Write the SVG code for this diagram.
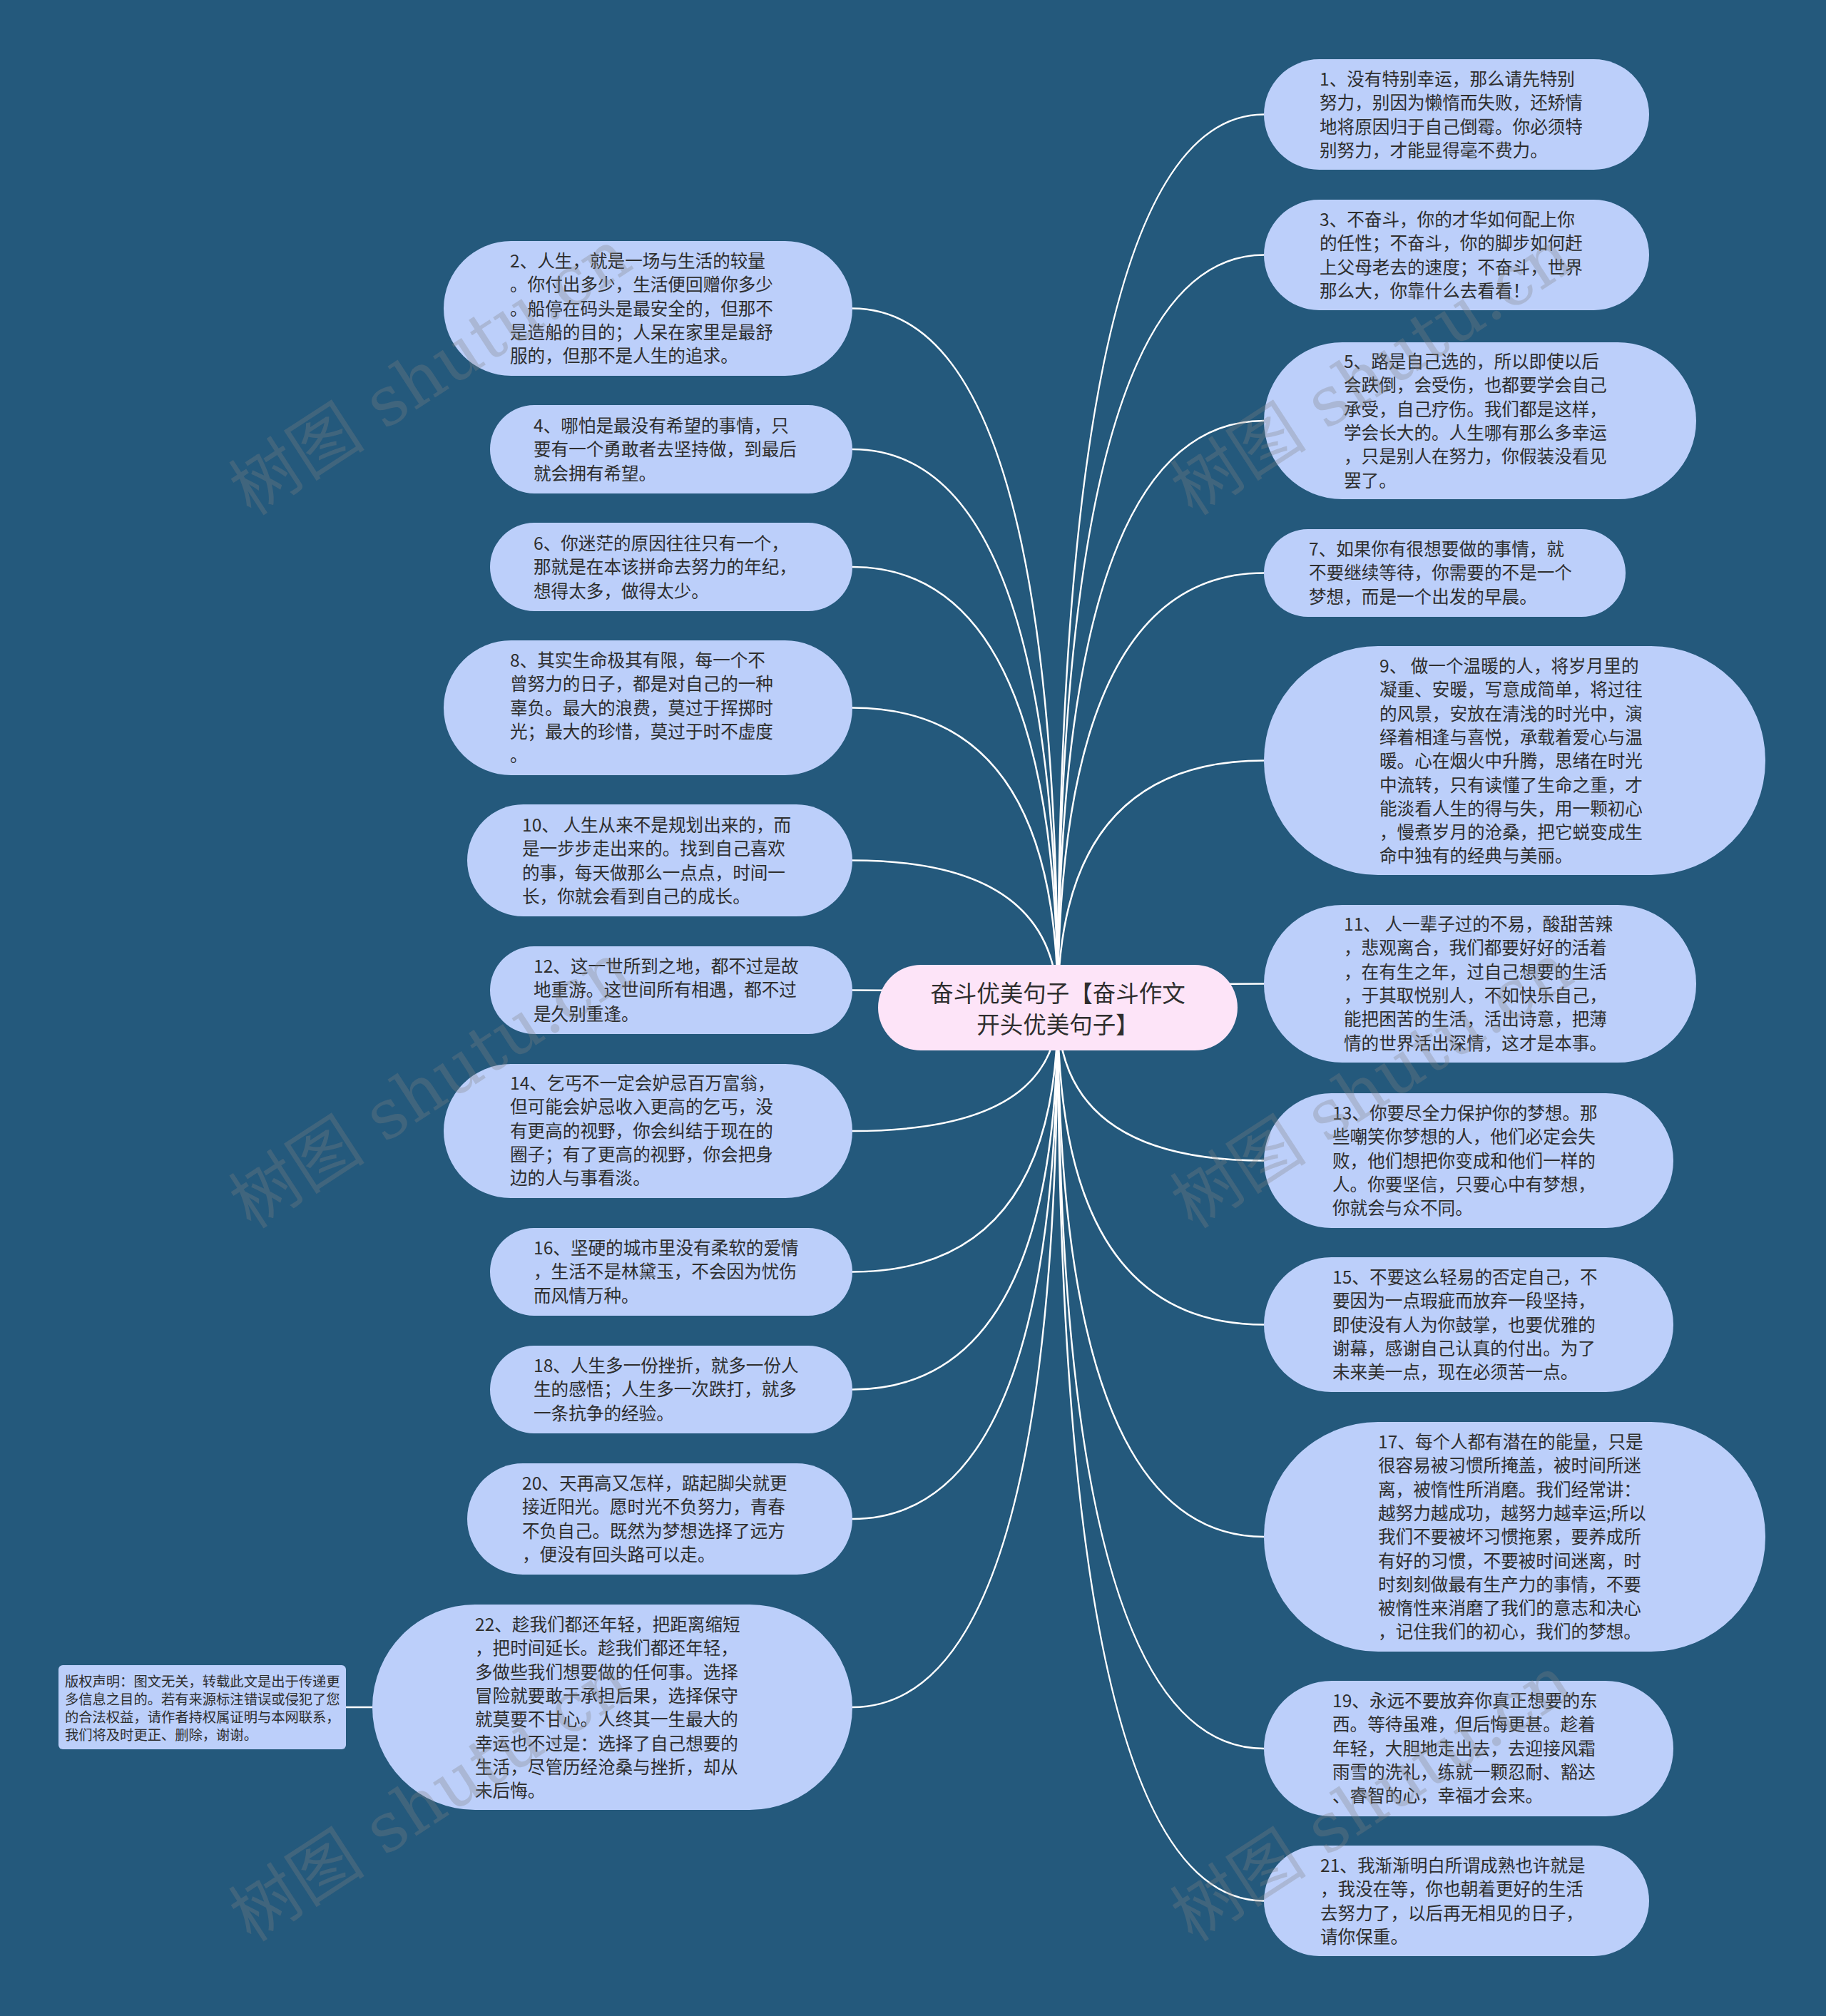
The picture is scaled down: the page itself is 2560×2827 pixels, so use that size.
<svg xmlns="http://www.w3.org/2000/svg" width="2560" height="2827" viewBox="0 0 2560 2827">
<style>
.bg{fill:#24597c}
.n{fill:#bccffa}
.root{fill:#fde4f8}
.t{font-family:"Noto Sans CJK SC","Noto Sans",sans-serif;font-size:24.6px;fill:#2e2e2e}
.rt{font-family:"Noto Sans CJK SC","Noto Sans",sans-serif;font-size:32.5px;fill:#2e2e2e;text-anchor:middle}
.ct{font-family:"Noto Sans CJK SC","Noto Sans",sans-serif;font-size:19.3px;fill:#2e2e2e}
.c{fill:none;stroke:#ffffff;stroke-width:2.5}
.wm{font-family:"DejaVu Serif","Noto Sans CJK SC",serif;font-size:96px;fill:#808080;fill-opacity:0.3;text-anchor:middle}
</style>
<rect class="bg" x="0" y="0" width="2560" height="2827"/>
<g id="connectors">
<path class="c" d="M1483 1413 Q1483 160.5 1772 160.5"/>
<path class="c" d="M1483 1413 Q1483 357.5 1772 357.5"/>
<path class="c" d="M1483 1413 Q1483 590 1772 590"/>
<path class="c" d="M1483 1413 Q1483 803.5 1772 803.5"/>
<path class="c" d="M1483 1413 Q1483 1066.5 1772 1066.5"/>
<path class="c" d="M1483 1413 Q1483 1379.5 1772 1379.5"/>
<path class="c" d="M1483 1413 Q1483 1627.5 1772 1627.5"/>
<path class="c" d="M1483 1413 Q1483 1857.5 1772 1857.5"/>
<path class="c" d="M1483 1413 Q1483 2155 1772 2155"/>
<path class="c" d="M1483 1413 Q1483 2452 1772 2452"/>
<path class="c" d="M1483 1413 Q1483 2665.5 1772 2665.5"/>
<path class="c" d="M1483 1413 Q1483 432.5 1195 432.5"/>
<path class="c" d="M1483 1413 Q1483 630 1195 630"/>
<path class="c" d="M1483 1413 Q1483 795 1195 795"/>
<path class="c" d="M1483 1413 Q1483 992.5 1195 992.5"/>
<path class="c" d="M1483 1413 Q1483 1206.5 1195 1206.5"/>
<path class="c" d="M1483 1413 Q1483 1388.5 1195 1388.5"/>
<path class="c" d="M1483 1413 Q1483 1586 1195 1586"/>
<path class="c" d="M1483 1413 Q1483 1783.5 1195 1783.5"/>
<path class="c" d="M1483 1413 Q1483 1948.5 1195 1948.5"/>
<path class="c" d="M1483 1413 Q1483 2130 1195 2130"/>
<path class="c" d="M1483 1413 Q1483 2394 1195 2394"/>
<path class="c" d="M522 2394 L485 2394"/>
</g>
<g id="root">
<rect class="root" x="1231" y="1353" width="504" height="120" rx="60"/>
<text class="rt" x="1483" y="1405">奋斗优美句子【奋斗作文<tspan x="1483" dy="44">开头优美句子】</tspan></text>
</g>
<g id="n1"><rect class="n" x="1772" y="83" width="540" height="155" rx="77.5"/>
<text class="t" x="1850" y="120">1、没有特别幸运，那么请先特别<tspan x="1850" dy="33.3">努力，别因为懒惰而失败，还矫情</tspan><tspan x="1850" dy="33.3">地将原因归于自己倒霉。你必须特</tspan><tspan x="1850" dy="33.3">别努力，才能显得毫不费力。</tspan></text></g>
<g id="n3"><rect class="n" x="1772" y="280" width="540" height="155" rx="77.5"/>
<text class="t" x="1850" y="317">3、不奋斗，你的才华如何配上你<tspan x="1850" dy="33.3">的任性；不奋斗，你的脚步如何赶</tspan><tspan x="1850" dy="33.3">上父母老去的速度；不奋斗，世界</tspan><tspan x="1850" dy="33.3">那么大，你靠什么去看看！</tspan></text></g>
<g id="n5"><rect class="n" x="1772" y="480" width="606" height="220" rx="110"/>
<text class="t" x="1884" y="516">5、路是自己选的，所以即使以后<tspan x="1884" dy="33.3">会跌倒，会受伤，也都要学会自己</tspan><tspan x="1884" dy="33.3">承受，自己疗伤。我们都是这样，</tspan><tspan x="1884" dy="33.3">学会长大的。人生哪有那么多幸运</tspan><tspan x="1884" dy="33.3">，只是别人在努力，你假装没看见</tspan><tspan x="1884" dy="33.3">罢了。</tspan></text></g>
<g id="n7"><rect class="n" x="1772" y="742" width="507" height="123" rx="61.5"/>
<text class="t" x="1835" y="779">7、如果你有很想要做的事情，就<tspan x="1835" dy="33.3">不要继续等待，你需要的不是一个</tspan><tspan x="1835" dy="33.3">梦想，而是一个出发的早晨。</tspan></text></g>
<g id="n9"><rect class="n" x="1772" y="906" width="703" height="321" rx="160"/>
<text class="t" x="1934" y="943">9、 做一个温暖的人，将岁月里的<tspan x="1934" dy="33.3">凝重、安暖，写意成简单，将过往</tspan><tspan x="1934" dy="33.3">的风景，安放在清浅的时光中，演</tspan><tspan x="1934" dy="33.3">绎着相逢与喜悦，承载着爱心与温</tspan><tspan x="1934" dy="33.3">暖。心在烟火中升腾，思绪在时光</tspan><tspan x="1934" dy="33.3">中流转，只有读懂了生命之重，才</tspan><tspan x="1934" dy="33.3">能淡看人生的得与失，用一颗初心</tspan><tspan x="1934" dy="33.3">，慢煮岁月的沧桑，把它蜕变成生</tspan><tspan x="1934" dy="33.3">命中独有的经典与美丽。</tspan></text></g>
<g id="n11"><rect class="n" x="1772" y="1269" width="606" height="221" rx="110"/>
<text class="t" x="1884" y="1305">11、 人一辈子过的不易，酸甜苦辣<tspan x="1884" dy="33.3">，悲观离合，我们都要好好的活着</tspan><tspan x="1884" dy="33.3">，在有生之年，过自己想要的生活</tspan><tspan x="1884" dy="33.3">，于其取悦别人，不如快乐自己，</tspan><tspan x="1884" dy="33.3">能把困苦的生活，活出诗意，把薄</tspan><tspan x="1884" dy="33.3">情的世界活出深情，这才是本事。</tspan></text></g>
<g id="n13"><rect class="n" x="1772" y="1533" width="574" height="189" rx="94.5"/>
<text class="t" x="1868" y="1570">13、你要尽全力保护你的梦想。那<tspan x="1868" dy="33.3">些嘲笑你梦想的人，他们必定会失</tspan><tspan x="1868" dy="33.3">败，他们想把你变成和他们一样的</tspan><tspan x="1868" dy="33.3">人。你要坚信，只要心中有梦想，</tspan><tspan x="1868" dy="33.3">你就会与众不同。</tspan></text></g>
<g id="n15"><rect class="n" x="1772" y="1763" width="574" height="189" rx="94.5"/>
<text class="t" x="1868" y="1800">15、不要这么轻易的否定自己，不<tspan x="1868" dy="33.3">要因为一点瑕疵而放弃一段坚持，</tspan><tspan x="1868" dy="33.3">即使没有人为你鼓掌，也要优雅的</tspan><tspan x="1868" dy="33.3">谢幕，感谢自己认真的付出。为了</tspan><tspan x="1868" dy="33.3">未来美一点，现在必须苦一点。</tspan></text></g>
<g id="n17"><rect class="n" x="1772" y="1994" width="703" height="322" rx="160"/>
<text class="t" x="1932" y="2031">17、每个人都有潜在的能量，只是<tspan x="1932" dy="33.3">很容易被习惯所掩盖，被时间所迷</tspan><tspan x="1932" dy="33.3">离，被惰性所消磨。我们经常讲：</tspan><tspan x="1932" dy="33.3">越努力越成功，越努力越幸运;所以</tspan><tspan x="1932" dy="33.3">我们不要被坏习惯拖累，要养成所</tspan><tspan x="1932" dy="33.3">有好的习惯，不要被时间迷离，时</tspan><tspan x="1932" dy="33.3">时刻刻做最有生产力的事情，不要</tspan><tspan x="1932" dy="33.3">被惰性来消磨了我们的意志和决心</tspan><tspan x="1932" dy="33.3">，记住我们的初心，我们的梦想。</tspan></text></g>
<g id="n19"><rect class="n" x="1772" y="2357" width="574" height="190" rx="95"/>
<text class="t" x="1868" y="2394">19、永远不要放弃你真正想要的东<tspan x="1868" dy="33.3">西。等待虽难，但后悔更甚。趁着</tspan><tspan x="1868" dy="33.3">年轻，大胆地走出去，去迎接风霜</tspan><tspan x="1868" dy="33.3">雨雪的洗礼，练就一颗忍耐、豁达</tspan><tspan x="1868" dy="33.3">、睿智的心，幸福才会来。</tspan></text></g>
<g id="n21"><rect class="n" x="1772" y="2588" width="540" height="155" rx="77.5"/>
<text class="t" x="1851" y="2625">21、我渐渐明白所谓成熟也许就是<tspan x="1851" dy="33.3">，我没在等，你也朝着更好的生活</tspan><tspan x="1851" dy="33.3">去努力了，以后再无相见的日子，</tspan><tspan x="1851" dy="33.3">请你保重。</tspan></text></g>
<g id="n2"><rect class="n" x="622" y="338" width="573" height="189" rx="94.5"/>
<text class="t" x="715" y="375">2、人生，就是一场与生活的较量<tspan x="715" dy="33.3">。你付出多少，生活便回赠你多少</tspan><tspan x="715" dy="33.3">。船停在码头是最安全的，但那不</tspan><tspan x="715" dy="33.3">是造船的目的；人呆在家里是最舒</tspan><tspan x="715" dy="33.3">服的，但那不是人生的追求。</tspan></text></g>
<g id="n4"><rect class="n" x="687" y="568" width="508" height="124" rx="62"/>
<text class="t" x="748" y="606">4、哪怕是最没有希望的事情，只<tspan x="748" dy="33.3">要有一个勇敢者去坚持做，到最后</tspan><tspan x="748" dy="33.3">就会拥有希望。</tspan></text></g>
<g id="n6"><rect class="n" x="687" y="733" width="508" height="124" rx="62"/>
<text class="t" x="748" y="771">6、你迷茫的原因往往只有一个，<tspan x="748" dy="33.3">那就是在本该拼命去努力的年纪，</tspan><tspan x="748" dy="33.3">想得太多，做得太少。</tspan></text></g>
<g id="n8"><rect class="n" x="622" y="898" width="573" height="189" rx="94.5"/>
<text class="t" x="715" y="935">8、其实生命极其有限，每一个不<tspan x="715" dy="33.3">曾努力的日子，都是对自己的一种</tspan><tspan x="715" dy="33.3">辜负。最大的浪费，莫过于挥掷时</tspan><tspan x="715" dy="33.3">光；最大的珍惜，莫过于时不虚度</tspan><tspan x="715" dy="33.3">。</tspan></text></g>
<g id="n10"><rect class="n" x="655" y="1128" width="540" height="157" rx="78.5"/>
<text class="t" x="732" y="1166">10、 人生从来不是规划出来的，而<tspan x="732" dy="33.3">是一步步走出来的。找到自己喜欢</tspan><tspan x="732" dy="33.3">的事，每天做那么一点点，时间一</tspan><tspan x="732" dy="33.3">长，你就会看到自己的成长。</tspan></text></g>
<g id="n12"><rect class="n" x="687" y="1327" width="508" height="123" rx="61.5"/>
<text class="t" x="748" y="1364">12、这一世所到之地，都不过是故<tspan x="748" dy="33.3">地重游。这世间所有相遇，都不过</tspan><tspan x="748" dy="33.3">是久别重逢。</tspan></text></g>
<g id="n14"><rect class="n" x="622" y="1492" width="573" height="188" rx="94"/>
<text class="t" x="715" y="1528">14、乞丐不一定会妒忌百万富翁，<tspan x="715" dy="33.3">但可能会妒忌收入更高的乞丐，没</tspan><tspan x="715" dy="33.3">有更高的视野，你会纠结于现在的</tspan><tspan x="715" dy="33.3">圈子；有了更高的视野，你会把身</tspan><tspan x="715" dy="33.3">边的人与事看淡。</tspan></text></g>
<g id="n16"><rect class="n" x="687" y="1722" width="508" height="123" rx="61.5"/>
<text class="t" x="748" y="1759">16、坚硬的城市里没有柔软的爱情<tspan x="748" dy="33.3">，生活不是林黛玉，不会因为忧伤</tspan><tspan x="748" dy="33.3">而风情万种。</tspan></text></g>
<g id="n18"><rect class="n" x="687" y="1887" width="508" height="123" rx="61.5"/>
<text class="t" x="748" y="1924">18、人生多一份挫折，就多一份人<tspan x="748" dy="33.3">生的感悟；人生多一次跌打，就多</tspan><tspan x="748" dy="33.3">一条抗争的经验。</tspan></text></g>
<g id="n20"><rect class="n" x="655" y="2052" width="540" height="156" rx="78"/>
<text class="t" x="732" y="2089">20、天再高又怎样，踮起脚尖就更<tspan x="732" dy="33.3">接近阳光。愿时光不负努力，青春</tspan><tspan x="732" dy="33.3">不负自己。既然为梦想选择了远方</tspan><tspan x="732" dy="33.3">，便没有回头路可以走。</tspan></text></g>
<g id="n22"><rect class="n" x="522" y="2250" width="673" height="288" rx="144"/>
<text class="t" x="666" y="2287">22、趁我们都还年轻，把距离缩短<tspan x="666" dy="33.3">，把时间延长。趁我们都还年轻，</tspan><tspan x="666" dy="33.3">多做些我们想要做的任何事。选择</tspan><tspan x="666" dy="33.3">冒险就要敢于承担后果，选择保守</tspan><tspan x="666" dy="33.3">就莫要不甘心。人终其一生最大的</tspan><tspan x="666" dy="33.3">幸运也不过是：选择了自己想要的</tspan><tspan x="666" dy="33.3">生活，尽管历经沧桑与挫折，却从</tspan><tspan x="666" dy="33.3">未后悔。</tspan></text></g>
<g id="copyright"><rect class="n" x="82" y="2335" width="403" height="118" rx="6"/>
<text class="ct" x="91" y="2365">版权声明：图文无关，转载此文是出于传递更<tspan x="91" dy="25">多信息之目的。若有来源标注错误或侵犯了您</tspan><tspan x="91" dy="25">的合法权益，请作者持权属证明与本网联系，</tspan><tspan x="91" dy="25">我们将及时更正、删除，谢谢。</tspan></text></g>
<g id="watermarks">
<text class="wm" transform="translate(604 523) rotate(-33)" y="32">树图 shutu.cn</text>
<text class="wm" transform="translate(1924 523) rotate(-33)" y="32">树图 shutu.cn</text>
<text class="wm" transform="translate(604 1523) rotate(-33)" y="32">树图 shutu.cn</text>
<text class="wm" transform="translate(1924 1523) rotate(-33)" y="32">树图 shutu.cn</text>
<text class="wm" transform="translate(604 2523) rotate(-33)" y="32">树图 shutu.cn</text>
<text class="wm" transform="translate(1924 2523) rotate(-33)" y="32">树图 shutu.cn</text>
</g>
</svg>
